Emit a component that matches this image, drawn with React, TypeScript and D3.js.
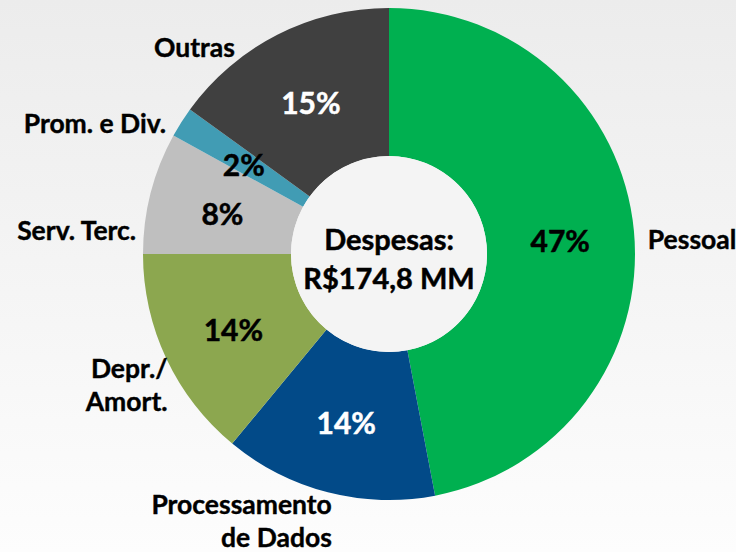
import { useEffect, useRef } from 'react'
import * as d3 from 'd3'

const W = 736
const H = 552

const CATEGORIES = ['Pessoal', 'Processamento\nde Dados', 'Depr./\nAmort.', 'Serv. Terc.', 'Prom. e Div.', 'Outras']
const SHARES = [47, 14, 14, 8, 2, 15]
const COLORS = ['#00B050', '#024A88', '#8CA74F', '#BFBFBF', '#419CB4', '#404040']
const PCT_COLORS = ['#000', '#fff', '#000', '#000', '#000', '#fff']
// manual nudges of the outer labels, like the hand-placed labels in the original
const LABEL_NUDGE: [number, number][] = [[2, 12], [7, 3], [12, 7], [-3, 43], [-5, 10], [-37, 26]]

const FONT = 'Lato, "Open Sans", sans-serif'

export default function App() {
  const svgRef = useRef<SVGSVGElement>(null)

  useEffect(() => {
    if (!svgRef.current) return
    const svg = d3.select(svgRef.current)
    svg.selectAll('*').remove()

    const cx = 389, cy = 254
    const outer = 246, inner = 98

    const defs = svg.append('defs')
    const grad = defs.append('linearGradient').attr('id', 'bg').attr('x1', 0).attr('y1', 0).attr('x2', 0).attr('y2', 1)
    grad.append('stop').attr('offset', '0%').attr('stop-color', '#ECECEC')
    grad.append('stop').attr('offset', '100%').attr('stop-color', '#FDFDFD')

    svg.append('rect').attr('width', W).attr('height', H).attr('fill', 'url(#bg)')

    const data = CATEGORIES.map((c, i) => ({ cat: c, value: SHARES[i], i }))
    const pie = d3.pie<any>().value(d => d.value).sort(null)
    const arcs = pie(data)
    const arc = d3.arc<any>().innerRadius(inner).outerRadius(outer)
    const labelArc = d3.arc<any>().innerRadius(258).outerRadius(258)

    const g = svg.append('g').attr('transform', `translate(${cx},${cy})`)

    g.selectAll('path.slice')
      .data(arcs).enter().append('path')
      .attr('class', 'slice')
      .attr('d', arc)
      .attr('fill', d => COLORS[d.data.i])

    g.append('circle').attr('r', inner).attr('fill', '#F4F4F4')

    // percentages
    g.selectAll('text.pct')
      .data(arcs).enter().append('text')
      .attr('class', 'pct')
      .attr('x', d => arc.centroid(d)[0])
      .attr('y', d => arc.centroid(d)[1] + 6)
      .attr('text-anchor', 'middle')
      .attr('dominant-baseline', 'middle')
      .attr('font-family', FONT).attr('font-weight', 700).attr('font-size', 30)
      .attr('fill', d => PCT_COLORS[d.data.i])
      .attr('stroke', d => PCT_COLORS[d.data.i]).attr('stroke-width', 0.5)
      .text(d => `${d.data.value}%`)

    // category labels
    arcs.forEach(d => {
      const [px, py] = labelArc.centroid(d)
      const [nx, ny] = LABEL_NUDGE[d.data.i]
      const mid = (d.startAngle + d.endAngle) / 2
      const right = mid < Math.PI
      const lines = d.data.cat.split('\n')
      const t = g.append('text')
        .attr('x', px + nx).attr('y', py + ny)
        .attr('text-anchor', right ? 'start' : 'end')
        .attr('dominant-baseline', 'middle')
        .attr('font-family', FONT).attr('font-weight', 700).attr('font-size', 26.5)
        .attr('fill', '#000').attr('stroke', '#000').attr('stroke-width', 0.4)
      lines.forEach((l: string, k: number) => {
        t.append('tspan').attr('x', px + nx).attr('dy', k === 0 ? 0 : 33).text(l)
      })
    })

    // centre text
    const c = g.append('text')
      .attr('text-anchor', 'middle')
      .attr('font-family', FONT).attr('font-weight', 700).attr('font-size', 29)
      .attr('fill', '#000').attr('stroke', '#000').attr('stroke-width', 0.5)
    c.append('tspan').attr('x', 0).attr('y', -4).text('Despesas:')
    c.append('tspan').attr('x', 0).attr('y', 35).text('R$174,8 MM')
  }, [])

  return (
    <svg ref={svgRef} width={W} height={H} style={{ position: 'absolute', left: 0, top: 0, display: 'block' }} />
  )
}
